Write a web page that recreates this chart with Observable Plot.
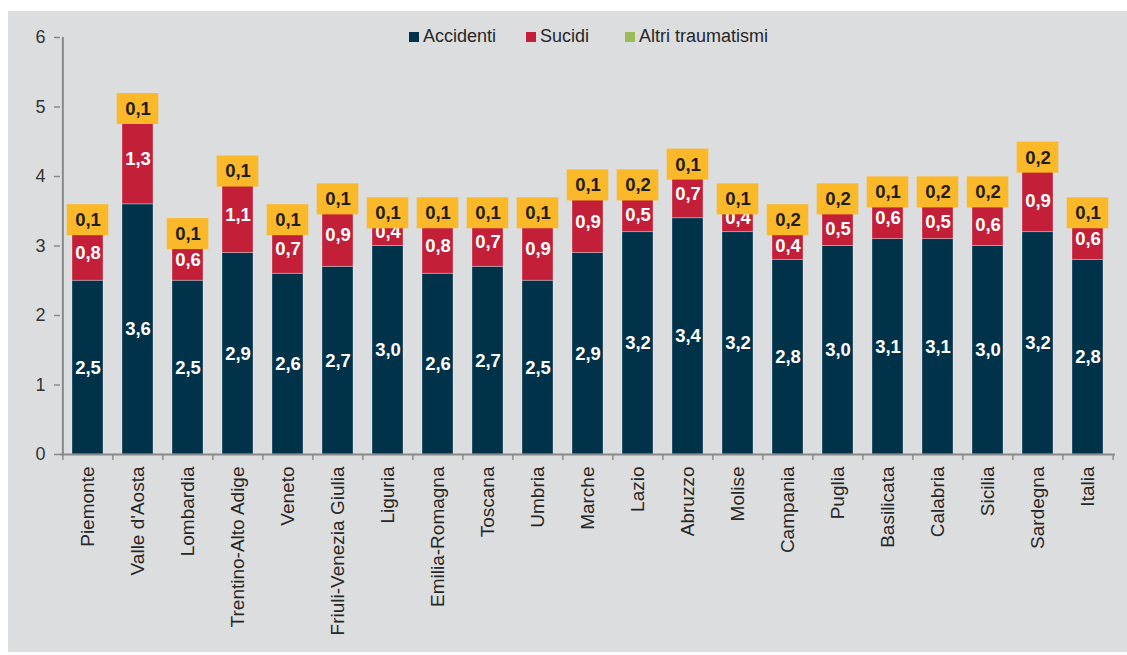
<!DOCTYPE html>
<html>
<head>
<meta charset="utf-8">
<script src="https://cdn.jsdelivr.net/npm/d3@7"></script>
<script src="https://cdn.jsdelivr.net/npm/@observablehq/plot@0.6"></script>
<style>
  body { margin: 0; background: #ffffff; font-family: "Liberation Sans", Arial, sans-serif; }
  #panel { position: absolute; left: 8px; top: 11px; width: 1119px; height: 641px; background: #dcdddf; }
  #chart { position: absolute; left: 0; top: 0; }
  .leg { position: absolute; top: 27px; font-size: 18px; line-height: 18px; color: #262626; white-space: nowrap; }
  .sw { position: absolute; top: 32px; width: 10px; height: 10px; }
</style>
</head>
<body>
<div id="panel"></div>
<div id="chart"></div>
<div id="legend"></div>
<script>
const regions = ["Piemonte","Valle d'Aosta","Lombardia","Trentino-Alto Adige","Veneto","Friuli-Venezia Giulia","Liguria","Emilia-Romagna","Toscana","Umbria","Marche","Lazio","Abruzzo","Molise","Campania","Puglia","Basilicata","Calabria","Sicilia","Sardegna","Italia"];
const accidenti = [2.5,3.6,2.5,2.9,2.6,2.7,3.0,2.6,2.7,2.5,2.9,3.2,3.4,3.2,2.8,3.0,3.1,3.1,3.0,3.2,2.8];
const suicidi   = [0.8,1.3,0.6,1.1,0.7,0.9,0.4,0.8,0.7,0.9,0.9,0.5,0.7,0.4,0.4,0.5,0.6,0.5,0.6,0.9,0.6];
const altri     = [0.1,0.1,0.1,0.1,0.1,0.1,0.1,0.1,0.1,0.1,0.1,0.2,0.1,0.1,0.2,0.2,0.1,0.2,0.2,0.2,0.1];
const seriesNames = ["Accidenti","Sucidi","Altri traumatismi"];
const seriesColors = ["#00324a","#c31f38","#9bbb59"];
const yTicks = [0,1,2,3,4,5,6];

const fmt = v => v.toFixed(1).replace(".", ",");

const long = [];
regions.forEach((r, i) => {
  long.push({region: r, series: seriesNames[0], value: accidenti[i]});
  long.push({region: r, series: seriesNames[1], value: suicidi[i]});
  long.push({region: r, series: seriesNames[2], value: altri[i]});
});
const rows = regions.map((r, i) => ({
  region: r,
  accMid: accidenti[i] / 2,
  sucMid: accidenti[i] + suicidi[i] / 2,
  top: accidenti[i] + suicidi[i] + altri[i],
  accLabel: fmt(accidenti[i]),
  sucLabel: fmt(suicidi[i]),
  altLabel: fmt(altri[i])
}));

const W = 1127, H = 655, mL = 60, mR = 12, mT = 37, mB = 201;
const pInner = 0.38, pOuter = 0.19;
const step = (W - mL - mR) / (regions.length - pInner + 2 * pOuter);
const pxPerUnit = (H - mT - mB) / 6;
const boxHalf = 15.5 / pxPerUnit;
const tickLen = 6 / pxPerUnit;

const chart = Plot.plot({
  width: W, height: H,
  marginLeft: mL, marginRight: mR, marginTop: mT, marginBottom: mB,
  style: {background: "transparent", fontFamily: "'Liberation Sans', Arial, sans-serif"},
  x: {domain: regions, paddingInner: pInner, paddingOuter: pOuter, label: null},
  y: {domain: [0, 6], label: null},
  color: {domain: seriesNames, range: seriesColors},
  marks: [
    Plot.barY(long, {x: "region", y: "value", fill: "series", stroke: "#ffffff", strokeOpacity: 0.3, strokeWidth: 1}),
    Plot.text(rows, {x: "region", y: "accMid", text: "accLabel", fill: "white", fontWeight: "bold", fontSize: 18.5}),
    Plot.text(rows, {x: "region", y: "sucMid", text: "sucLabel", fill: "white", fontWeight: "bold", fontSize: 18.5}),
    Plot.barY(rows, {x: "region", y1: d => d.top - boxHalf, y2: d => d.top + boxHalf, fill: "#fbb829", insetLeft: -5.3, insetRight: -5.3, dy: 2}),
    Plot.text(rows, {x: "region", y: "top", text: "altLabel", fill: "#1e1e1e", fontWeight: "bold", fontSize: 18.5, dy: 2}),
    Plot.ruleY([0], {stroke: "#8a8a8a", strokeWidth: 2}),
    Plot.ruleX([regions[0]], {x: d => d, dx: -step / 2, y1: 0, y2: 6, stroke: "#8a8a8a", strokeWidth: 2}),
    Plot.ruleX(regions, {x: d => d, dx: -step / 2, y1: 0, y2: -tickLen, stroke: "#8a8a8a", strokeWidth: 1.5}),
    Plot.ruleX([regions[regions.length - 1]], {x: d => d, dx: step / 2, y1: 0, y2: -tickLen, stroke: "#8a8a8a", strokeWidth: 1.5}),
    Plot.axisY({ticks: yTicks, tickFormat: d => String(d), tickSize: 6, tickPadding: 9, fontSize: 18, stroke: "#8a8a8a", fill: "#333333", strokeWidth: 1.5}),
    Plot.axisX({tickSize: 0, tickPadding: 12, tickRotate: -90, fontSize: 19, fill: "#262626"})
  ]
});
document.getElementById("chart").appendChild(chart);

const legend = document.getElementById("legend");
const legPos = [409, 526, 625];
seriesNames.forEach((s, i) => {
  const sw = document.createElement("div");
  sw.className = "sw";
  sw.style.left = legPos[i] + "px";
  sw.style.background = seriesColors[i];
  legend.appendChild(sw);
  const t = document.createElement("div");
  t.className = "leg";
  t.style.left = (legPos[i] + 14) + "px";
  t.textContent = s;
  legend.appendChild(t);
});
</script>
</body>
</html>
